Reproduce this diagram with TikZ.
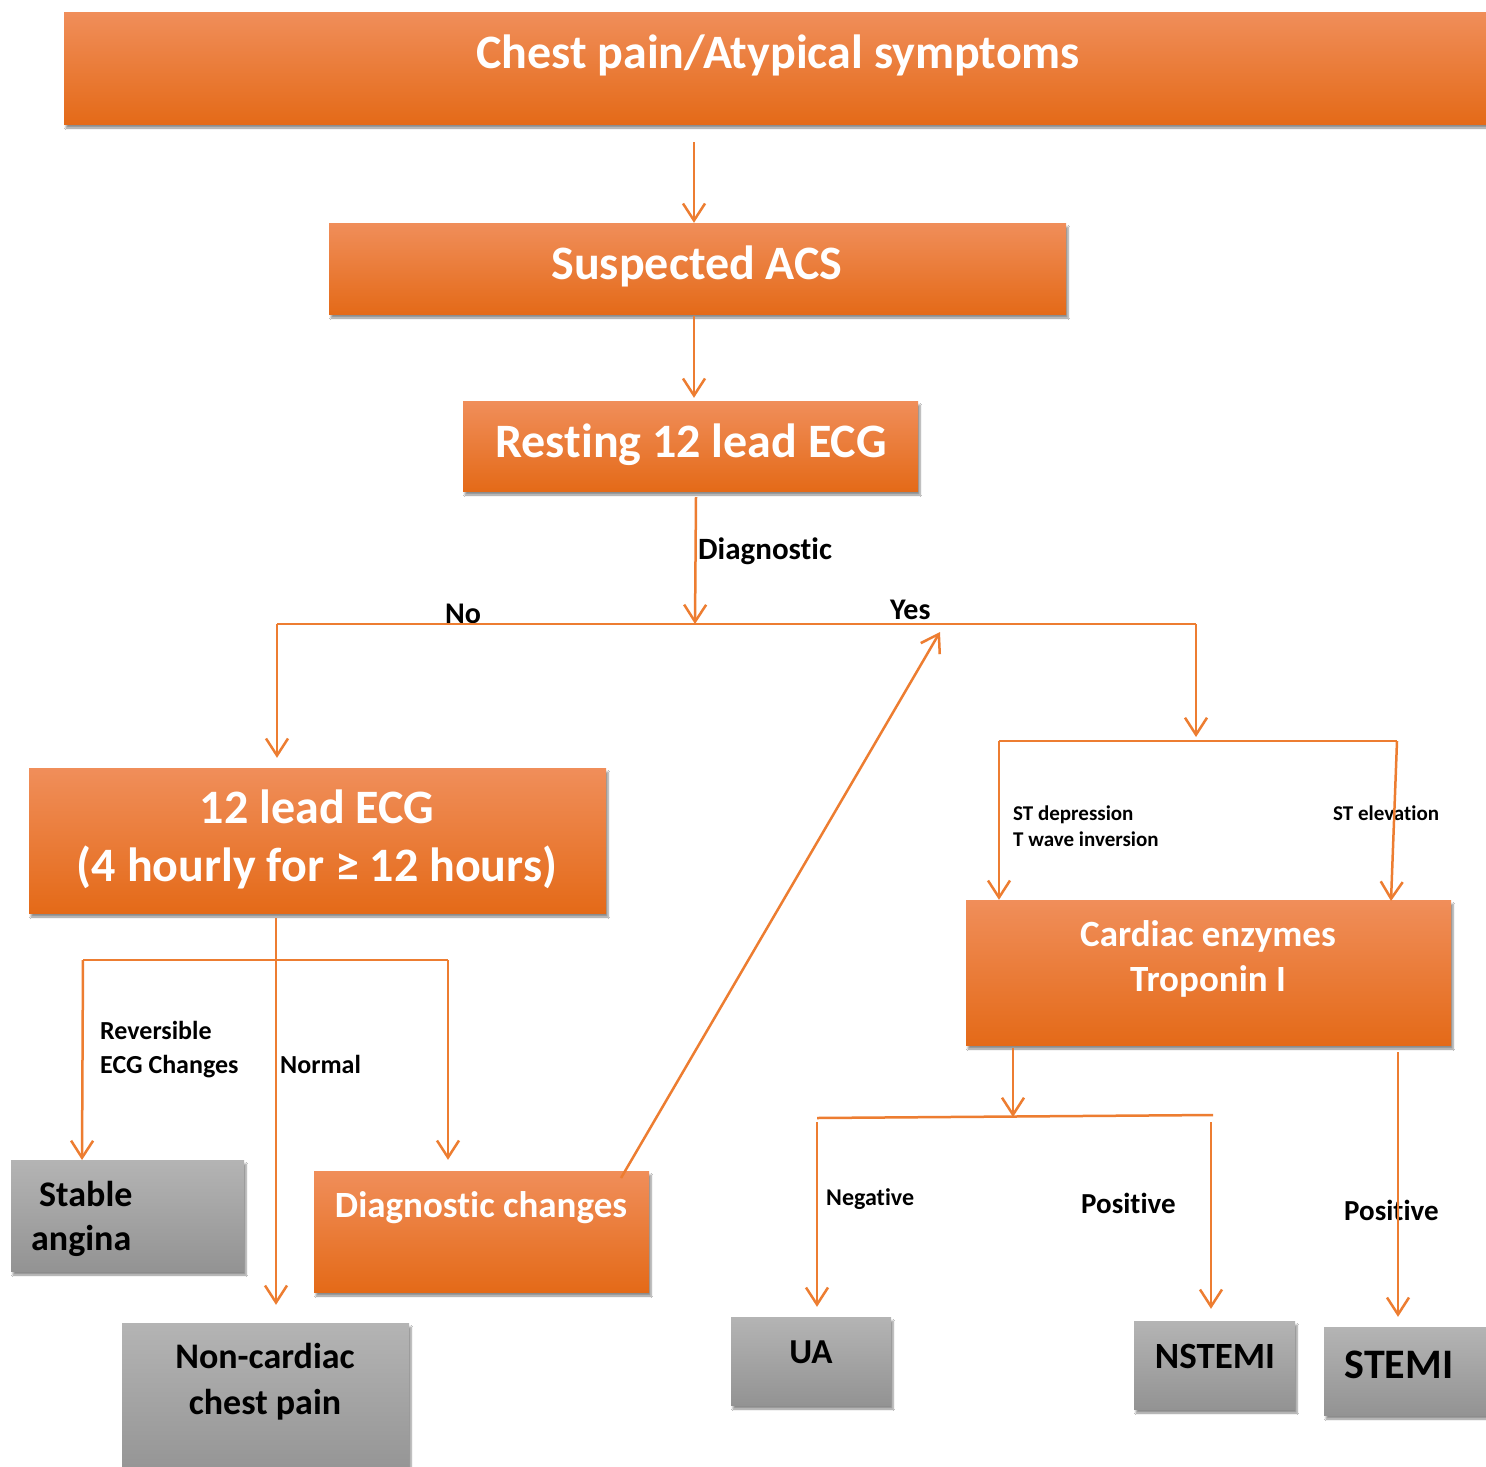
\documentclass[tikz,border=0pt]{standalone}
\usepackage{fontspec}
\setmainfont[RawFeature=-liga, RawFeature=-calt, RawFeature=-clig]{Carlito}
\usetikzlibrary{arrows.meta,shadows.blur}
\definecolor{ln}{HTML}{ED7D31}
\definecolor{otop}{HTML}{F08E5A}
\definecolor{omid}{HTML}{F47D2C}
\definecolor{obot}{HTML}{E46A18}
\definecolor{gtop}{HTML}{B4B4B4}
\definecolor{gbot}{HTML}{939393}
\tikzset{
  boxbase/.style={rectangle, draw=none, inner sep=0pt,
    blur shadow={shadow xshift=2pt, shadow yshift=-4pt, shadow blur steps=6, shadow opacity=45}},
  obox/.style={boxbase, top color=otop, middle color=omid, bottom color=obot},
  gbox/.style={boxbase, top color=gtop, bottom color=gbot},
  wt/.style={text=white, font=\bfseries, inner sep=0pt, anchor=base},
  bt/.style={text=black, font=\bfseries, inner sep=0pt, anchor=base west},
  conn/.style={draw=ln, line width=2.5pt},
  arr/.style={conn, -{Straight Barb[length=17pt,width=22pt,line width=2.5pt]}},
}
\begin{document}
\begin{tikzpicture}[x=1pt,y=-1pt]
\fill[white] (0,0) rectangle (1486,1467);
\useasboundingbox (0,0) rectangle (1486,1467);
% boxes
\node[obox, minimum width=1436pt, minimum height=112pt] (top) at (782,68) {};
\node[obox, minimum width=737pt, minimum height=91pt] (sus) at (697.5,268.5) {};
\node[obox, minimum width=455pt, minimum height=90pt] (rest) at (690.5,446) {};
\node[obox, minimum width=577pt, minimum height=145pt] (ecg) at (317.5,840.5) {};
\node[obox, minimum width=485pt, minimum height=145pt] (card) at (1208.5,972.5) {};
\node[gbox, minimum width=233pt, minimum height=111pt] (stab) at (127.5,1215.5) {};
\node[obox, minimum width=335pt, minimum height=121pt] (diag) at (481.5,1231.5) {};
\node[gbox, minimum width=287pt, minimum height=157pt] (nonc) at (265.5,1401.5) {};
\node[gbox, minimum width=160pt, minimum height=88pt] (ua) at (811,1361) {};
\node[gbox, minimum width=161pt, minimum height=88pt] (nst) at (1214.5,1365) {};
\node[gbox, minimum width=171pt, minimum height=88pt] (st) at (1409.5,1371) {};
% box texts
\node[wt, font=\bfseries\fontsize{48}{56}\selectfont] (topT) at (778,68) {Chest pain/Atypical symptoms};
\node[wt, font=\bfseries\fontsize{48}{56}\selectfont] (susT) at (697,279) {Suspected ACS};
\node[wt, font=\bfseries\fontsize{48}{56}\selectfont] (restT) at (691,457) {Resting 12 lead ECG};
\node[wt, font=\bfseries\fontsize{48}{56}\selectfont] (ecgT1) at (317,823) {12 lead ECG};
\node[wt, font=\bfseries\fontsize{48}{56}\selectfont] (ecgT2) at (317,881) {(4 hourly for ≥ 12 hours)};
\node[wt, font=\bfseries\fontsize{37}{44}\selectfont] (cardT1) at (1208,946) {Cardiac enzymes};
\node[wt, font=\bfseries\fontsize{37}{44}\selectfont] (cardT2) at (1208,991) {Troponin I};
\node[wt, font=\bfseries\fontsize{37}{44}\selectfont] (diagT) at (481,1217) {Diagnostic changes};
\node[bt, font=\bfseries\fontsize{36}{44}\selectfont] (stabT1) at (39,1206) {Stable};
\node[bt, font=\bfseries\fontsize{36}{44}\selectfont] (stabT2) at (31,1250) {angina};
\node[wt, text=black, font=\bfseries\fontsize{36}{44}\selectfont] (noncT1) at (265,1368) {Non-cardiac};
\node[wt, text=black, font=\bfseries\fontsize{36}{44}\selectfont] (noncT2) at (265,1414) {chest pain};
\node[wt, text=black, font=\bfseries\fontsize{35}{44}\selectfont] (uaT) at (811,1363) {UA};
\node[wt, text=black, font=\bfseries\fontsize{37}{44}\selectfont] (nstT) at (1215,1368) {NSTEMI};
\node[wt, text=black, font=\bfseries\fontsize{42}{48}\selectfont] (stT) at (1399,1378) {STEMI};
% labels
\node[bt, font=\bfseries\fontsize{31}{36}\selectfont] (lDiag) at (698,559) {Diagnostic};
\node[bt, font=\bfseries\fontsize{30}{36}\selectfont] (lNo) at (445,623) {No};
\node[bt, font=\bfseries\fontsize{30}{36}\selectfont] (lYes) at (890,619) {Yes};
\node[bt, font=\bfseries\fontsize{21}{26}\selectfont] (lStd) at (1013,820) {ST depression};
\node[bt, font=\bfseries\fontsize{21}{26}\selectfont] (lTw) at (1013,846) {T wave inversion};
\node[bt, font=\bfseries\fontsize{21}{26}\selectfont] (lSte) at (1333,820) {ST elevation};
\node[bt, font=\bfseries\fontsize{26}{30}\selectfont] (lRev1) at (100,1039) {Reversible};
\node[bt, font=\bfseries\fontsize{26}{30}\selectfont] (lRev2) at (100,1073) {ECG Changes};
\node[bt, font=\bfseries\fontsize{26}{30}\selectfont] (lNorm) at (280,1073) {Normal};
\node[bt, font=\bfseries\fontsize{24}{28}\selectfont] (lNeg) at (826,1205) {Negative};
\node[bt, font=\bfseries\fontsize{29}{34}\selectfont] (lPos1) at (1081,1213) {Positive};
\node[bt, font=\bfseries\fontsize{29}{34}\selectfont] (lPos2) at (1344,1220) {Positive};
% junction coordinates
\coordinate (c1) at (694,142);
\coordinate (c2) at (694,316);
\coordinate (c3) at (696,497);
\coordinate (jd) at (695,624);
\coordinate (jno) at (277,624);
\coordinate (jyes) at (1196,624);
\coordinate (jl) at (999,741);
\coordinate (jr) at (1397,741);
\coordinate (e1) at (276,918);
\coordinate (jel) at (83,960);
\coordinate (jer) at (448,960);
\coordinate (dg) at (621,1178);
\coordinate (yt) at (940,632);
\coordinate (k1) at (1013,1048);
\coordinate (jk) at (1013,1117);
\coordinate (kl) at (817,1118);
\coordinate (kr) at (1213,1115);
\coordinate (kl2) at (817,1122);
\coordinate (kr2) at (1211,1122);
\coordinate (k2) at (1398,1052);
% connectors
\draw[arr] (c1) -- (c1 |- sus.north);
\draw[arr] (c2) -- ([yshift=3pt]c2 |- rest.north);
\draw[arr] (c3) -- (jd);
\draw[conn] (jno) -- (jyes);
\draw[arr] (jno) -- ([yshift=10pt]jno |- ecg.north);
\draw[arr] (jyes) -- (1196,737);
\draw[conn] (jl) -- (jr);
\draw[arr] (jl) -- (jl |- card.north);
\draw[arr] (jr) -- (1391,901);
\draw[arr] (e1) -- ([yshift=18pt]e1 |- nonc.north);
\draw[conn] (jel) -- (jer);
\draw[arr] (jel) -- (82,1160);
\draw[arr] (jer) -- (jer |- stab.north);
\draw[arr] (dg) -- (yt);
\draw[arr] (k1) -- (jk);
\draw[conn] (kl) -- (kr);
\draw[arr] (kl2) -- ([yshift=10pt]kl2 |- ua.north);
\draw[arr] (kr2) -- ([yshift=12pt]kr2 |- nst.north);
\draw[arr] (k2) -- ([yshift=10pt]k2 |- st.north);
\end{tikzpicture}
\end{document}
